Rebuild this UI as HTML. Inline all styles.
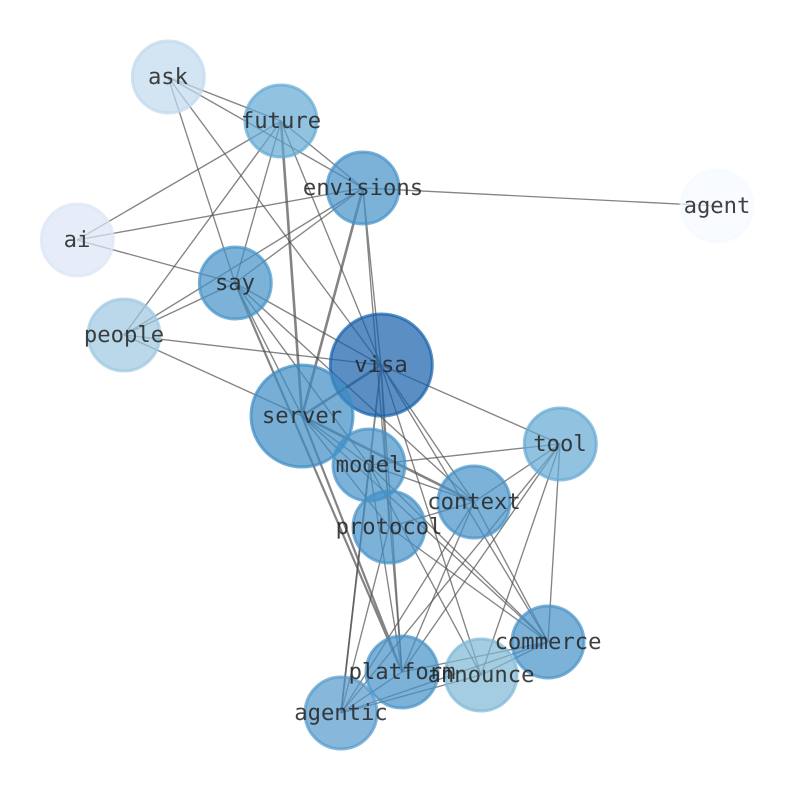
<!DOCTYPE html>
<html><head><meta charset="utf-8"><style>html,body{margin:0;padding:0;background:#fff}svg{display:block}text{font-family:"DejaVu Sans Mono","Liberation Mono",monospace;font-size:22.2px;fill:#262626;fill-opacity:.88;text-anchor:middle;dominant-baseline:central;text-rendering:geometricPrecision}</style></head><body>
<svg width="794" height="790" viewBox="0 0 794 790" xmlns="http://www.w3.org/2000/svg">
<g stroke="#505050" stroke-opacity=".7" stroke-width="1.35" fill="none">
<path d="M168 77L281 121M168 77L363 188M168 77L235 283M168 77L381 365"/>
<path d="M281 121L77 240M281 121L124 335M281 121L235 283M281 121L363 188M281 121L381 365"/>
<path d="M363 188L77 240M363 188L235 283M363 188L124 335M363 188L717 206M363 188L381 365M363 188L402 672"/>
<path d="M77 240L235 283M235 283L124 335M235 283L381 365M235 283L302 416M235 283L369 465M235 283L474 502"/>
<path d="M124 335L381 365M124 335L302 416"/>
<path d="M381 365L560 444M381 365L474 502M381 365L389 527M381 365L548 642M381 365L481 675M381 365L402 672"/>
<path d="M302 416L369 465M302 416L389 527M302 416L548 642"/>
<path d="M369 465L560 444M369 465L474 502M369 465L548 642M369 465L481 675M369 465L402 672M369 465L341 713"/>
<path d="M560 444L474 502M560 444L548 642M560 444L481 675M560 444L402 672M560 444L341 713"/>
<path d="M474 502L389 527M474 502L548 642M474 502L402 672M474 502L341 713"/>
<path d="M389 527L548 642M389 527L341 713"/>
<path d="M548 642L481 675M548 642L402 672M548 642L341 713M481 675L341 713M402 672L341 713"/>
</g>
<g stroke="#505050" stroke-opacity=".7" stroke-width="2.6" fill="none">
<path d="M281 121L302 416M363 188L302 416M381 365L302 416M302 416L474 502"/>
<path d="M235 283L402 672M302 416L402 672" stroke-width="2.2"/>
<path d="M381 365L341 713" stroke-width="1.8"/>
</g>
<g stroke-width="3">
<circle cx="168.3" cy="77" r="36" fill="#c0d9ee" fill-opacity=".7" stroke="#c0d9ee" stroke-opacity=".7"/>
<circle cx="281" cy="121" r="36" fill="#63a8d3" fill-opacity=".7" stroke="#63a8d3" stroke-opacity=".7"/>
<circle cx="363" cy="188" r="36" fill="#4591c7" fill-opacity=".7" stroke="#4591c7" stroke-opacity=".7"/>
<circle cx="717" cy="206" r="36" fill="#f5f9ff" fill-opacity=".7" stroke="#f5f9ff" stroke-opacity=".7"/>
<circle cx="77.3" cy="240" r="36" fill="#dce6f5" fill-opacity=".7" stroke="#dce6f5" stroke-opacity=".7"/>
<circle cx="235.3" cy="283" r="36" fill="#4591c7" fill-opacity=".7" stroke="#4591c7" stroke-opacity=".7"/>
<circle cx="124" cy="335" r="36" fill="#9cc7e1" fill-opacity=".7" stroke="#9cc7e1" stroke-opacity=".7"/>
<circle cx="381.3" cy="365" r="51" fill="#165fab" fill-opacity=".7" stroke="#165fab" stroke-opacity=".7"/>
<circle cx="302" cy="416" r="51" fill="#3d8cc4" fill-opacity=".7" stroke="#3d8cc4" stroke-opacity=".7"/>
<circle cx="369" cy="465" r="36" fill="#4591c7" fill-opacity=".7" stroke="#4591c7" stroke-opacity=".7"/>
<circle cx="560.3" cy="444" r="36" fill="#63a8d3" fill-opacity=".7" stroke="#63a8d3" stroke-opacity=".7"/>
<circle cx="474" cy="502" r="36" fill="#4591c7" fill-opacity=".7" stroke="#4591c7" stroke-opacity=".7"/>
<circle cx="389" cy="527" r="36" fill="#4591c7" fill-opacity=".7" stroke="#4591c7" stroke-opacity=".7"/>
<circle cx="548" cy="642" r="36" fill="#4591c7" fill-opacity=".7" stroke="#4591c7" stroke-opacity=".7"/>
<circle cx="402" cy="672" r="36" fill="#4591c7" fill-opacity=".7" stroke="#4591c7" stroke-opacity=".7"/>
<circle cx="481" cy="675" r="36" fill="#7eb8d6" fill-opacity=".7" stroke="#7eb8d6" stroke-opacity=".7"/>
<circle cx="341" cy="713" r="36" fill="#5498cc" fill-opacity=".7" stroke="#5498cc" stroke-opacity=".7"/>
</g>
<g>
<text x="168" y="77">ask</text>
<text x="281" y="121">future</text>
<text x="363" y="188">envisions</text>
<text x="717" y="206">agent</text>
<text x="77" y="240">ai</text>
<text x="235" y="283">say</text>
<text x="124" y="335">people</text>
<text x="381" y="365">visa</text>
<text x="302" y="416">server</text>
<text x="369" y="465">model</text>
<text x="560" y="444">tool</text>
<text x="474" y="502">context</text>
<text x="389" y="527">protocol</text>
<text x="548" y="642">commerce</text>
<text x="402" y="672">platform</text>
<text x="481" y="675">announce</text>
<text x="341" y="713">agentic</text>
</g>
</svg>
</body></html>
